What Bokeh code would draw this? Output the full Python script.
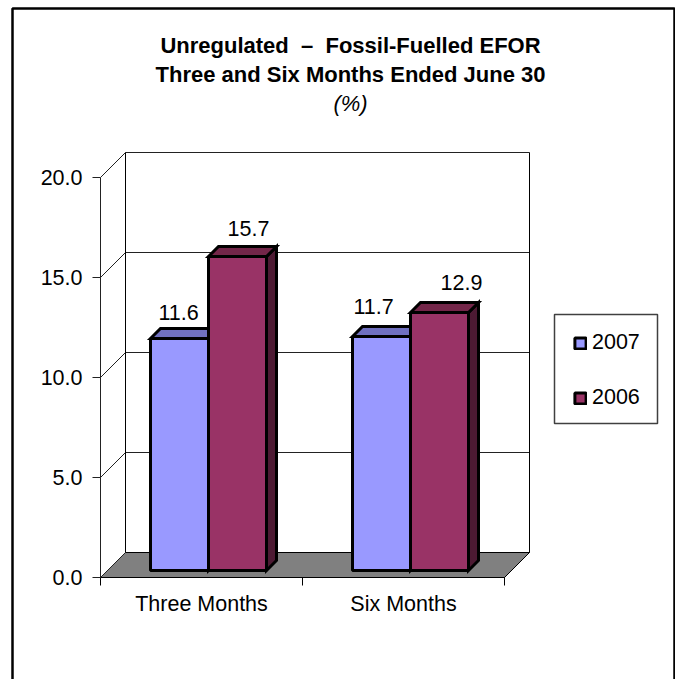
from bokeh.plotting import figure
from bokeh.models import (Range1d, FixedTicker, NumeralTickFormatter, BoxAnnotation, Label,
                          Legend, LegendItem, ColumnDataSource)
from bokeh.embed import file_html
from bokeh.resources import INLINE
from bokeh.core.properties import value

# ---- data ----
categories = ["Three Months", "Six Months"]
series_names = ["2007", "2006"]
values_2007 = [11.6, 11.7]
values_2006 = [15.7, 12.9]
y_ticks = [0, 5, 10, 15, 20]
title_lines = ["Unregulated\u00a0 \u2013 \u00a0Fossil-Fuelled EFOR", "Three and Six Months Ended June 30", "(%)"]

# ---- geometry (page pixels -> data) ----
PXX, PXY = 202.0, 20.0          # pixels per data unit
X0, Y0 = 100, 577               # page position of data (0, 0)
def dx(px): return px / PXX
def dy(px): return px / PXY
def X(page): return (page - X0) / PXX
def Y(page): return (Y0 - page) / PXY

FONT = "Liberation Sans"
FS = "21.5px"
W, H = 667, 673
PAGE_L, PAGE_T = 8, 6

p = figure(width=W, height=H, output_backend="svg", toolbar_location=None,
           x_range=Range1d(X(PAGE_L), X(PAGE_L + W)),
           y_range=Range1d(Y(PAGE_T + H), Y(PAGE_T)),
           min_border=0, min_border_left=0, min_border_right=0, min_border_top=0, min_border_bottom=0,
           outline_line_color=None, background_fill_color="white", border_fill_color="white",
           styles={"position": "absolute", "left": f"{PAGE_L}px", "top": f"{PAGE_T}px"})
p.grid.visible = False

n = len(categories)
depth = dy(25)
x_depth = dx(25)
top_val = max(y_ticks)

# floor
p.patch([0, x_depth, n + x_depth, n], [0, depth, depth, 0],
        fill_color="#808080", line_color="#000000", line_width=1)
# back wall grid and side-wall grid
for t in y_ticks[1:]:
    p.line([x_depth, n + x_depth], [t + depth, t + depth], line_color="#222222", line_width=1)
for t in y_ticks:
    p.line([0, x_depth], [t, t + depth], line_color="#222222", line_width=1)
# wall edges
p.line([x_depth, x_depth], [depth, top_val + depth], line_color="#000000", line_width=1)
p.line([n + x_depth, n + x_depth], [depth, top_val + depth], line_color="#000000", line_width=1)
p.line([n, n + x_depth], [0, depth], line_color="#000000", line_width=1)

# bars
bar_w = dx(58)
bar_off = dx(50)
base = dy(7)
b_dx, b_dy = dx(10), dy(10)
BAR_LW = 3
series = [
    (values_2007, "#9999FF", "#7070C0", "#4D4D80"),
    (values_2006, "#993366", "#732649", "#4D1A33"),
]
face_renderers = []
for s, (vals, face, top_c, side_c) in enumerate(series):
    lefts = [i + bar_off + s * bar_w for i in range(n)]
    rights = [l + bar_w for l in lefts]
    tops = [base + v for v in vals]
    p.patches([[r, r + b_dx, r + b_dx, r] for r in rights],
              [[base, base + b_dy, t + b_dy, t] for t in tops],
              fill_color=side_c, line_color="black", line_width=BAR_LW, line_join="miter")
    p.patches([[l, l + b_dx, r + b_dx, r] for l, r in zip(lefts, rights)],
              [[t, t + b_dy, t + b_dy, t] for t in tops],
              fill_color=top_c, line_color="black", line_width=BAR_LW, line_join="miter")
    face_renderers.append(
        p.quad(left=lefts, right=rights, bottom=[base] * n, top=tops,
               fill_color=face, line_color="black", line_width=BAR_LW))

# data labels
label_dx = [[-1, -8], [11, 22]]
label_dy = [[26, 30], [28, 30]]
for s, (vals, *_rest) in enumerate(series):
    src = ColumnDataSource(dict(
        x=[i + bar_off + (s + 0.5) * bar_w for i in range(n)],
        y=[base + v for v in vals],
        t=[f"{v:.1f}" for v in vals],
        xo=label_dx[s], yo=[-d for d in label_dy[s]],
    ))
    p.text("x", "y", text="t", source=src, x_offset="xo", y_offset="yo",
           text_align="center", text_baseline="alphabetic",
           text_font=value(FONT), text_font_size=FS, text_color="#000000")

# axes
p.yaxis.fixed_location = 0
p.yaxis.ticker = FixedTicker(ticks=y_ticks)
p.yaxis.bounds = (0, top_val)
p.yaxis.formatter = NumeralTickFormatter(format="0.0")
p.yaxis.major_tick_in = 0
p.yaxis.major_tick_out = 8
p.yaxis.minor_tick_line_color = None
p.yaxis.major_label_standoff = 10
p.yaxis.major_label_text_font = FONT
p.yaxis.major_label_text_font_size = FS
p.yaxis.major_label_text_color = "#000000"
p.yaxis.axis_line_color = "#222222"
p.yaxis.major_tick_line_color = "#222222"

cat_pos = [i + 0.5 for i in range(n)]
p.xaxis.fixed_location = 0
p.xaxis.ticker = FixedTicker(ticks=cat_pos, minor_ticks=list(range(n + 1)))
p.xaxis.bounds = (0, n)
p.xaxis.major_label_overrides = {c: name for c, name in zip(cat_pos, categories)}
p.xaxis.major_tick_line_color = None
p.xaxis.major_tick_in = 0
p.xaxis.major_tick_out = 0
p.xaxis.minor_tick_in = 0
p.xaxis.minor_tick_out = 8
p.xaxis.minor_tick_line_color = "#000000"
p.xaxis.major_label_standoff = 6
p.xaxis.major_label_text_font = FONT
p.xaxis.major_label_text_font_size = FS
p.xaxis.major_label_text_color = "#000000"
p.xaxis.axis_line_color = "#000000"

# title
title_y = [45, 74, 103]
title_style = ["bold", "bold", "italic"]
for line, py, st in zip(title_lines, title_y, title_style):
    p.add_layout(Label(x=X(350), y=Y(py), text=line, text_align="center", text_baseline="alphabetic",
                       text_font=FONT, text_font_size="22px", text_font_style=st, text_color="#000000"))

# outer frame
p.add_layout(BoxAnnotation(left=X(12), right=X(674), top=Y(8), bottom=Y(720),
                           fill_alpha=0, line_color="black", line_width=2.5, line_alpha=1, level="underlay"))

# legend box drawn separately so its height and width can match independently of the entries' padding
p.add_layout(BoxAnnotation(left=X(554), right=X(657), top=Y(314), bottom=Y(423),
                           fill_color="white", fill_alpha=1, line_color="#404040", line_width=1.5,
                           line_alpha=1, level="overlay"))
legend = Legend(items=[LegendItem(label=name, renderers=[r]) for name, r in zip(series_names, face_renderers)],
                location=(565, 269), orientation="vertical",
                glyph_width=14, glyph_height=14, label_text_font=FONT, label_text_font_size=FS,
                label_text_color="#000000", spacing=30, padding=20, margin=0,
                label_height=20, label_standoff=5,
                border_line_color=None, background_fill_alpha=0, level="overlay")
p.add_layout(legend, "center")

open("out.html", "w").write(file_html(p, INLINE))
